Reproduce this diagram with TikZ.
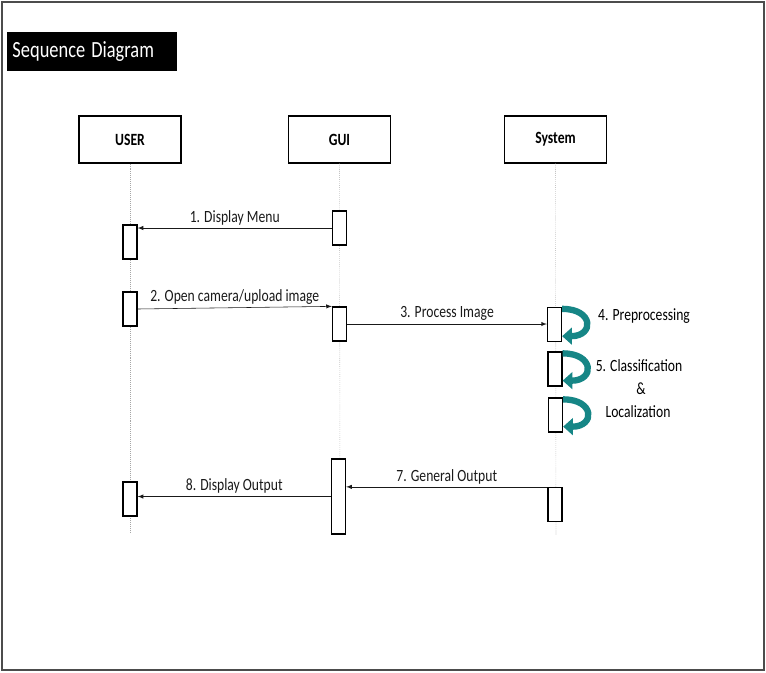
\documentclass[tikz,border=0pt]{standalone}
\usepackage{fontspec}
\setmainfont{Carlito}
\usepackage{xcolor}
\usepackage{graphicx}
\usetikzlibrary{arrows, arrows.meta, positioning, calc}

\definecolor{loopteal}{RGB}{22,134,134}
\newcommand{\talltext}[1]{\scalebox{0.97}[1.22]{#1}}

\begin{document}
\begin{tikzpicture}[x=0.025cm, y=-0.025cm]
    % Styles
    \tikzstyle{actor} = [rectangle, draw, line width=0.8pt, fill=white, minimum width=2.55cm, minimum height=1.175cm, font=\fontsize{10}{12}\selectfont\bfseries]
    \tikzstyle{act} = [rectangle, draw, line width=0.9pt, fill=white, minimum width=0.35cm, minimum height=0.85cm, inner sep=0pt]
    \tikzstyle{life} = [draw, densely dotted, gray!70]
    \tikzstyle{msg} = [draw, -latex, gray!20!black, line width=0.4pt]
    \tikzstyle{lbl} = [font=\fontsize{10}{12}\selectfont, inner sep=2pt]
    \tikzstyle{selfloop} = [draw=loopteal, line width=4.5pt, -{Triangle[width=12pt,length=7pt]}, looseness=3]

    % frame
    \useasboundingbox (0,0) rectangle (766,672);
    \draw[gray!60!black, line width=0.9pt] (2,2) rectangle (764,670);

    % --- TITLE ---
    \node[fill=black, text=white, anchor=north west, minimum height=0.98cm, text width=3.97cm, inner xsep=0.13cm, font=\fontsize{13.5}{16}\selectfont] (title) at (7,32) {\talltext{Sequence Diagram}};

    % --- ACTORS ---
    \node[actor] (user) at (130,139.5) {\talltext{USER}};
    \node[actor] (gui) at (339.5,139.5) {\talltext{GUI}};
    \node[actor] (sys) at (555.5,139.5) {\talltext{System}};

    % lifelines
    \coordinate (userend) at (130,533);
    \coordinate (guiend) at (340,535);
    \coordinate (sysend) at (556,535);
    \path[life] (user.south) -- (userend);
    \path[life] (gui.south) -- (guiend);
    \path[life] (sys.south) -- (sysend);

    % --- ACTIVATIONS ---
    \node[act] (guiA) at (339.5,228) {};
    \node[act] (userA) at (130,242) {};
    \node[act] (userB) at (130,309) {};
    \node[act] (guiB) at (339.5,324) {};
    \node[act] (sysA) at (554.5,324.5) {};
    \node[act] (sysB) at (555,369) {};
    \node[act] (sysC) at (555.5,415) {};
    \node[act, minimum height=1.875cm] (guiC) at (338.5,496.5) {};
    \node[act] (userC) at (130,499) {};
    \node[act] (sysD) at (555,504.5) {};

    % --- MESSAGES ---
    \path[msg] (guiA.west) -- node[lbl, above] {\talltext{1. Display Menu}} (guiA.west -| userA.east);
    \path[msg] (userB.east) -- node[lbl, above] {\talltext{2. Open camera/upload image}} (guiB.north west);
    \path[msg] (guiB.east) -- node[lbl, above] {\talltext{3. Process Image}} (guiB.east -| sysA.west);
    \path[msg] (sysD.north west) -- node[lbl, above] {\talltext{7. General Output}} (sysD.north west -| guiC.east);
    \path[msg] (guiC.west) -- node[lbl, above] {\talltext{8. Display Output}} (guiC.west -| userC.east);

    % self calls
    \path[selfloop] ([yshift=-0.05cm]sysA.north east) to[out=0, in=0] ([yshift=0.15cm]sysA.south east);
    \path[selfloop] ([yshift=-0.05cm]sysB.north east) to[out=0, in=0] ([yshift=0.15cm]sysB.south east);
    \path[selfloop] ([yshift=-0.05cm]sysC.north east) to[out=0, in=0] ([yshift=0.15cm]sysC.south east);

    % --- LABELS ---
    \node[lbl] (pre) at (644,316) {\talltext{4. Preprocessing}};
    \node[lbl] (cls) at (639,366) {\talltext{5. Classification}};
    \node[lbl] (amp) at (641,389) {\talltext{\&}};
    \node[lbl] (loc) at (638,412) {\talltext{Localization}};

\end{tikzpicture}
\end{document}
